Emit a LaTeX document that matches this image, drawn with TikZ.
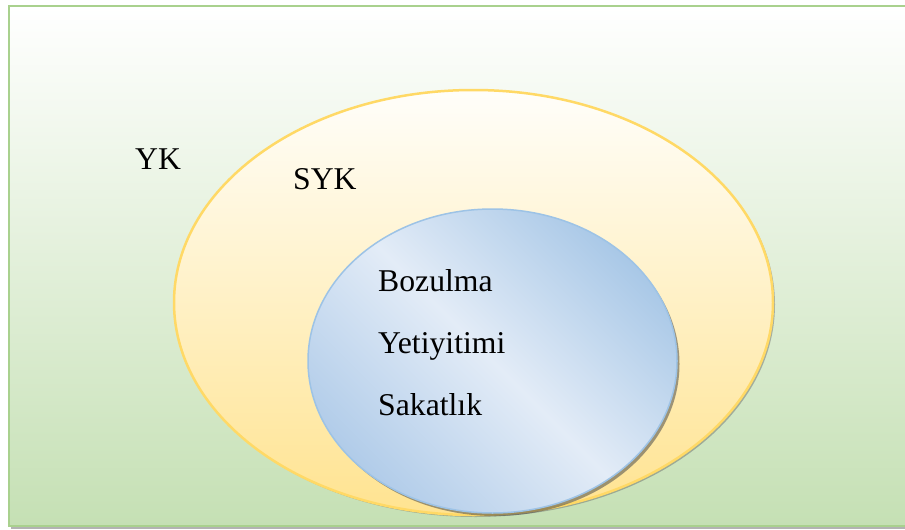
\documentclass[tikz,border=0pt]{standalone}
\usepackage{fontspec}
\setmainfont{Liberation Serif}
\usetikzlibrary{shapes.geometric,shadows}
\definecolor{frameline}{HTML}{A9D18E}
\definecolor{framebot}{HTML}{C5E0B4}
\definecolor{ylline}{HTML}{FFD966}
\definecolor{yltop}{HTML}{FFFEFA}
\definecolor{ylbot}{HTML}{FFE390}
\definecolor{blline}{HTML}{9DC3E6}
\definecolor{bldark}{HTML}{A9C8E7}
\definecolor{bllight}{HTML}{E3ECF7}
\definecolor{bldark2}{HTML}{B1CCE9}
\pgfdeclarehorizontalshading{blueband}{100bp}{color(0bp)=(bldark2); color(25bp)=(bldark2); color(50bp)=(bllight); color(75bp)=(bldark); color(100bp)=(bldark)}
\tikzset{
  lbl/.style={anchor=base west, inner sep=0pt, font=\fontsize{31.7}{38}\selectfont, text=black},
  framebox/.style={rectangle, inner sep=0pt, draw=frameline, line width=2.5pt,
    top color=white, bottom color=framebot,
    drop shadow={shadow xshift=2pt, shadow yshift=-3pt, fill=black!50, opacity=0.6}},
  outerell/.style={ellipse, inner sep=0pt, draw=ylline, line width=2.5pt,
    top color=yltop, bottom color=ylbot,
    drop shadow={shadow xshift=2pt, shadow yshift=-2pt, fill=black!60, opacity=0.45}},
  innerell/.style={ellipse, inner sep=0pt, draw=blline, line width=1.5pt,
    shading=blueband, shading angle=45,
    drop shadow={shadow xshift=2.5pt, shadow yshift=-3pt, fill=black!70, opacity=0.55}}
}
\begin{document}
\begin{tikzpicture}[x=1pt,y=-1pt]
\useasboundingbox (0,0) rectangle (905,530);
\node[framebox, minimum width=903pt, minimum height=520pt] (frame) at (460.5,266) {};
\node[outerell, minimum width=599pt, minimum height=425pt] (yk) at (473.5,302.5) {};
\node[innerell, minimum width=369pt, minimum height=304pt] (syk) at (492.5,361) {};
\node[lbl] (tyk) at (135,169) {YK};
\node[lbl] (tsyk) at (293,189) {SYK};
\node[lbl] (tboz) at (378,291) {Bozulma};
\node[lbl] (tyet) at (378,353) {Yetiyitimi};
\node[lbl] (tsak) at (378,415) {Sakatlık};
\end{tikzpicture}
\end{document}
